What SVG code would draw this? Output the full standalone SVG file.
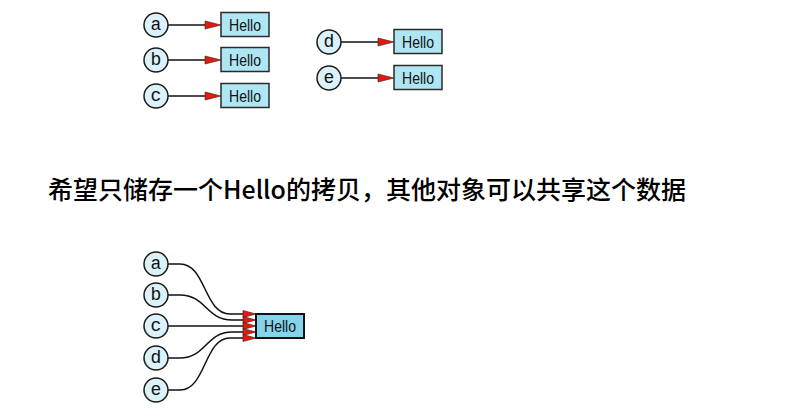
<svg xmlns="http://www.w3.org/2000/svg" width="793" height="413" viewBox="0 0 793 413">
<defs>
<style>
.c{fill:#dcf2fa;stroke:#1a1a1a;stroke-width:1.5}
.cl{font-family:"Liberation Mono","DejaVu Sans Mono",monospace;font-size:18px;fill:#111;text-anchor:middle}
.b{fill:#aee6f4;stroke:#2a2a2a;stroke-width:1.5}
.b2{fill:#84d4ec;stroke:#111;stroke-width:2}
.bl{font-family:"Liberation Sans",Arial,sans-serif;font-size:16px;fill:#111;text-anchor:middle}
.e{fill:none;stroke:#111;stroke-width:1.5}
.ah{fill:#e8180c;stroke:#222;stroke-width:0.6}
.t{font-family:"Noto Sans CJK SC",sans-serif;font-size:25px;font-weight:500;fill:#000}
</style>
</defs>
<rect width="793" height="413" fill="#fff"/>
<g id="connectors">
<path class="e" d="M168,25 H206"/>
<path class="e" d="M168,60 H206"/>
<path class="e" d="M168,96 H206"/>
<path class="e" d="M341,42 H379"/>
<path class="e" d="M341,78 H379"/>
<polygon class="ah" points="205,21 221,25 205,29"/>
<polygon class="ah" points="205,56 221,60 205,64"/>
<polygon class="ah" points="205,92 221,96 205,100"/>
<polygon class="ah" points="378,38 394,42 378,46"/>
<polygon class="ah" points="378,74 394,78 378,82"/>
<path class="e" d="M168,264 H180 C206,264 204,314 230,314 H245"/>
<path class="e" d="M168,295 H180 C206,295 206,320 232,320 H245"/>
<path class="e" d="M168,326 H245"/>
<path class="e" d="M168,358 H180 C206,358 206,332 232,332 H245"/>
<path class="e" d="M168,390 H180 C206,390 204,338 230,338 H245"/>
<polygon class="ah" points="243,310.5 256,314 243,317.5"/>
<polygon class="ah" points="243,316.5 256,320 243,323.5"/>
<polygon class="ah" points="243,322.5 256,326 243,329.5"/>
<polygon class="ah" points="243,328.5 256,332 243,335.5"/>
<polygon class="ah" points="243,334.5 256,338 243,341.5"/>
</g>
<g id="a1"><circle class="c" cx="156" cy="25" r="12"/><text class="cl" x="156" y="30">a</text></g>
<g id="b1"><circle class="c" cx="156" cy="60" r="12"/><text class="cl" x="156" y="65">b</text></g>
<g id="c1"><circle class="c" cx="156" cy="96" r="12"/><text class="cl" x="156" y="101">c</text></g>
<g id="h1"><rect class="b" x="221" y="12.5" width="48" height="24"/><text class="bl" x="245" y="30.5" textLength="32" lengthAdjust="spacingAndGlyphs">Hello</text></g>
<g id="h2"><rect class="b" x="221" y="47.5" width="48" height="24"/><text class="bl" x="245" y="65.5" textLength="32" lengthAdjust="spacingAndGlyphs">Hello</text></g>
<g id="h3"><rect class="b" x="221" y="83.5" width="48" height="24"/><text class="bl" x="245" y="101.5" textLength="32" lengthAdjust="spacingAndGlyphs">Hello</text></g>
<g id="d1"><circle class="c" cx="329" cy="42" r="12"/><text class="cl" x="329" y="47">d</text></g>
<g id="e1"><circle class="c" cx="329" cy="78" r="12"/><text class="cl" x="329" y="83">e</text></g>
<g id="h4"><rect class="b" x="394" y="29.5" width="48" height="24"/><text class="bl" x="418" y="47.5" textLength="32" lengthAdjust="spacingAndGlyphs">Hello</text></g>
<g id="h5"><rect class="b" x="394" y="65.5" width="48" height="24"/><text class="bl" x="418" y="83.5" textLength="32" lengthAdjust="spacingAndGlyphs">Hello</text></g>
<g id="caption"><text class="t" x="48" y="199" textLength="638">希望只储存一个Hello的拷贝，其他对象可以共享这个数据</text></g>
<g id="a2"><circle class="c" cx="156" cy="264" r="12"/><text class="cl" x="156" y="269">a</text></g>
<g id="b2"><circle class="c" cx="156" cy="295" r="12"/><text class="cl" x="156" y="300">b</text></g>
<g id="c2"><circle class="c" cx="156" cy="326" r="12"/><text class="cl" x="156" y="331">c</text></g>
<g id="d2"><circle class="c" cx="156" cy="358" r="12"/><text class="cl" x="156" y="363">d</text></g>
<g id="e2"><circle class="c" cx="156" cy="390" r="12"/><text class="cl" x="156" y="395">e</text></g>
<g id="hshared"><rect class="b2" x="256" y="314" width="48" height="24"/><text class="bl" x="280" y="331.5" textLength="32" lengthAdjust="spacingAndGlyphs">Hello</text></g>
</svg>
